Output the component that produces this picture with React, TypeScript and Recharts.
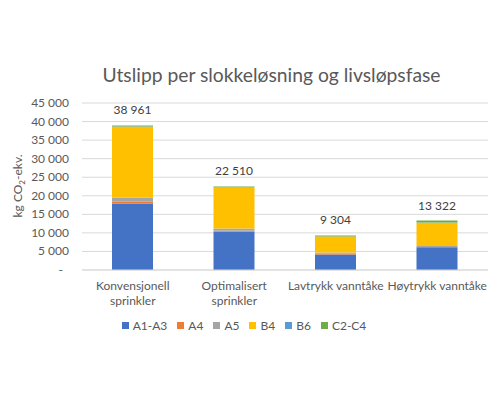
import React from 'react';
import { BarChart, Bar, XAxis, YAxis, CartesianGrid, Legend, LabelList } from 'recharts';

const categories = ['Konvensjonell sprinkler', 'Optimalisert sprinkler', 'Lavtrykk vanntåke', 'Høytrykk vanntåke'];
const a1a3 = [17900, 10300, 4150, 6100];
const a4 = [500, 300, 250, 100];
const a5 = [1100, 600, 300, 250];
const b4 = [19100, 11000, 4300, 6300];
const b6 = [61, 10, 4, 22];
const c2c4 = [300, 300, 300, 550];
const totals = [38961, 22510, 9304, 13322];
const yTicks = [0, 5000, 10000, 15000, 20000, 25000, 30000, 35000, 40000, 45000];

const series = [
  { key: 'A1-A3', color: '#4472C4' },
  { key: 'A4', color: '#ED7D31' },
  { key: 'A5', color: '#A5A5A5' },
  { key: 'B4', color: '#FFC000' },
  { key: 'B6', color: '#5B9BD5' },
  { key: 'C2-C4', color: '#70AD47' },
];

const data = categories.map((name, i) => ({
  name,
  'A1-A3': a1a3[i],
  A4: a4[i],
  A5: a5[i],
  B4: b4[i],
  B6: b6[i],
  'C2-C4': c2c4[i],
  total: totals[i],
}));

const FONT = 'Lato, "Liberation Sans", sans-serif';
const GREY = '#595959';

// Excel-style number: space as thousands separator
const fmt = (v: number) => String(Math.round(v)).replace(/\B(?=(\d{3})+(?!\d))/g, ' ');

const YTick = (props: any) => {
  const { x, y, payload } = props;
  const v = payload.value;
  return (
    <text x={v === 0 ? x - 6 : x} y={y} dy={4} textAnchor="end" fill={GREY} fontSize={12} fontFamily={FONT}>
      {v === 0 ? '-' : fmt(v)}
    </text>
  );
};

const XTick = (props: any) => {
  const { x, y, payload } = props;
  const s: string = payload.value;
  const lines = s.length > 18 ? s.split(' ') : [s];
  return (
    <text x={x} y={y} textAnchor="middle" fill={GREY} fontSize={12} fontFamily={FONT}>
      {lines.map((l, i) => (
        <tspan key={i} x={x} dy={i === 0 ? 20 : 15}>{l}</tspan>
      ))}
    </text>
  );
};

const TotalLabel = (props: any) => {
  const { x, y, width, value } = props;
  return (
    <text x={x + width / 2} y={y - 11} textAnchor="middle" fill="#404040" fontSize={12} fontFamily={FONT}>
      {fmt(Number(value))}
    </text>
  );
};

const LegendContent = () => (
  <div style={{ display: 'flex', justifyContent: 'center', alignItems: 'center', height: 20, gap: 10 }}>
    {series.map((s) => (
      <div key={s.key} style={{ display: 'flex', alignItems: 'center' }}>
        <span style={{ width: 7, height: 7, background: s.color, display: 'inline-block', marginRight: 4 }} />
        <span style={{ fontSize: 12, color: GREY, fontFamily: FONT }}>{s.key}</span>
      </div>
    ))}
  </div>
);

export default function App() {
  return (
    <div style={{ position: 'absolute', left: 0, top: 0, width: 499, height: 400, background: '#fff', fontFamily: FONT }}>
      <div style={{ position: 'absolute', left: 0, width: 543, top: 64, textAlign: 'center', fontSize: 19.3, lineHeight: '22px', color: GREY }}>
        Utslipp per slokkeløsning og livsløpsfase
      </div>
      <BarChart width={499} height={400} data={data} margin={{ top: 103, right: 11, bottom: 65, left: 0 }}>
        <CartesianGrid vertical={false} stroke="#D9D9D9" />
        <XAxis
          dataKey="name"
          tick={<XTick />}
          tickLine={false}
          tickSize={0}
          tickMargin={0}
          axisLine={{ stroke: '#D9D9D9' }}
          height={45}
          interval={0}
        />
        <YAxis
          width={82}
          domain={[0, 45000]}
          ticks={yTicks}
          interval={0}
          tick={<YTick />}
          tickLine={false}
          axisLine={false}
          tickSize={0}
          tickMargin={13}
          label={{
            content: () => (
              <text transform="translate(22,186) rotate(-90)" textAnchor="middle" fill={GREY} fontSize={12} fontFamily={FONT}>
                kg CO<tspan fontSize={8} dy={3}>2</tspan><tspan dy={-3}>-ekv.</tspan>
              </text>
            ),
          }}
        />
        <Legend verticalAlign="bottom" height={20} content={<LegendContent />} />
        {series.map((s, i) => (
          <Bar key={s.key} dataKey={s.key} stackId="a" fill={s.color} barSize={41} isAnimationActive={false}>
            {i === series.length - 1 && <LabelList dataKey="total" content={<TotalLabel />} />}
          </Bar>
        ))}
      </BarChart>
    </div>
  );
}
